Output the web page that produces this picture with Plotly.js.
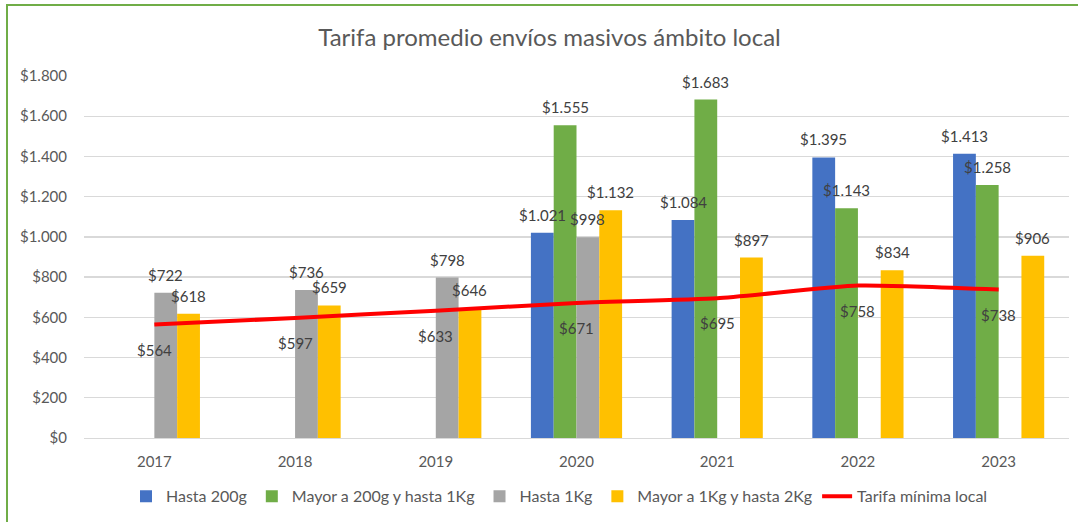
<!DOCTYPE html>
<html>
<head>
<meta charset="utf-8">
<script src="https://cdn.plot.ly/plotly-3.0.1.min.js"></script>
<style>
  html, body { margin:0; padding:0; background:#fff; }
  #chart { width:1078px; height:522px; }
  #frame { position:absolute; left:6px; top:4px; width:1080px; height:530px;
           border-left:2px solid #70AD47; border-top:2px solid #70AD47; pointer-events:none; }
</style>
</head>
<body>
<div id="chart"></div>
<div id="frame"></div>
<script>
// ---- data ----
const years = ['2017', '2018', '2019', '2020', '2021', '2022', '2023'];
const hasta200g = [null, null, null, 1021, 1084, 1395, 1413];
const mayor200gHasta1Kg = [null, null, null, 1555, 1683, 1143, 1258];
const hasta1Kg = [722, 736, 798, 998, null, null, null];
const mayor1KgHasta2Kg = [618, 659, 646, 1132, 897, 834, 906];
const tarifaMinimaLocal = [564, 597, 633, 671, 695, 758, 738];
const seriesNames = ['Hasta 200g', 'Mayor a 200g y hasta 1Kg', 'Hasta 1Kg', 'Mayor a 1Kg y hasta 2Kg'];
const lineName = 'Tarifa mínima local';

// ---- styling ----
const colors = ['#4472C4', '#70AD47', '#A5A5A5', '#FFC000'];
const W = 1078, H = 522;
const M = {l: 84, r: 9, t: 75.5, b: 83.5, pad: 0};
const bargap = 0.352;
const FONT = 'Lato, "Open Sans", sans-serif';

const barSeries = [hasta200g, mayor200gHasta1Kg, hasta1Kg, mayor1KgHasta2Kg];

function fmt(v) {
  return '$' + String(Math.round(v)).replace(/\B(?=(\d{3})+(?!\d))/g, '.');
}

const traces = barSeries.map((vals, i) => ({
  type: 'bar', name: seriesNames[i], x: years, y: vals,
  marker: {color: colors[i]}, hoverinfo: 'skip'
}));
traces.push({
  type: 'scatter', mode: 'lines', name: lineName, x: years, y: tarifaMinimaLocal,
  line: {color: '#FF0000', width: 4, shape: 'spline', smoothing: 0.5}, hoverinfo: 'skip'
});

// label offsets from bar geometry
const plotW = W - M.l - M.r;
const catW = plotW / years.length;
const barW = catW * (1 - bargap) / barSeries.length;
const annotations = [];
const labelFont = {family: FONT, size: 15, color: '#404040'};
barSeries.forEach((vals, i) => {
  vals.forEach((v, j) => {
    if (v === null) return;
    annotations.push({
      x: j, y: v, xref: 'x', yref: 'y', text: fmt(v), showarrow: false,
      xshift: (i - (barSeries.length - 1) / 2) * barW, yshift: 18,
      yanchor: 'middle', xanchor: 'center', font: labelFont
    });
  });
});
tarifaMinimaLocal.forEach((v, j) => {
  annotations.push({
    x: j, y: v, xref: 'x', yref: 'y', text: fmt(v), showarrow: false,
    xshift: 0, yshift: -25, yanchor: 'middle', xanchor: 'center', font: labelFont
  });
});

const layout = {
  width: W, height: H, margin: M,
  paper_bgcolor: '#fff', plot_bgcolor: '#fff',
  separators: ',.',
  font: {family: FONT, size: 15, color: '#595959'},
  title: {text: 'Tarifa promedio envíos masivos ámbito local',
          font: {family: FONT, size: 24, color: '#595959'},
          x: 549.5 / W, xanchor: 'center', xref: 'container',
          y: 1 - 38 / H, yanchor: 'middle', yref: 'container'},
  barmode: 'group', bargap: bargap, bargroupgap: 0,
  xaxis: {type: 'category', range: [-0.5, years.length - 0.5], autorange: false,
          showgrid: false, zeroline: false, showline: true,
          linecolor: '#d9d9d9', linewidth: 1.3, ticks: '', ticklabelstandoff: 10,
          tickfont: {family: FONT, size: 15, color: '#595959'}},
  yaxis: {range: [0, 1800], autorange: false, dtick: 200, tick0: 0, tickprefix: '$', tickformat: ',.0f',
          showgrid: true, gridcolor: '#d9d9d9', gridwidth: 1.3, zeroline: false,
          ticks: '', ticklabelstandoff: 16, showline: false,
          tickfont: {family: FONT, size: 15, color: '#595959'}},
  legend: {orientation: 'h', x: (559.5 - M.l) / plotW, xanchor: 'center',
           y: (438.5 - 497) / (H - M.t - M.b), yanchor: 'middle',
           font: {family: FONT, size: 16, color: '#595959'}, traceorder: 'normal'},
  annotations: annotations,
  showlegend: true
};

Plotly.newPlot('chart', traces, layout, {staticPlot: true, displayModeBar: false});
</script>
</body>
</html>
